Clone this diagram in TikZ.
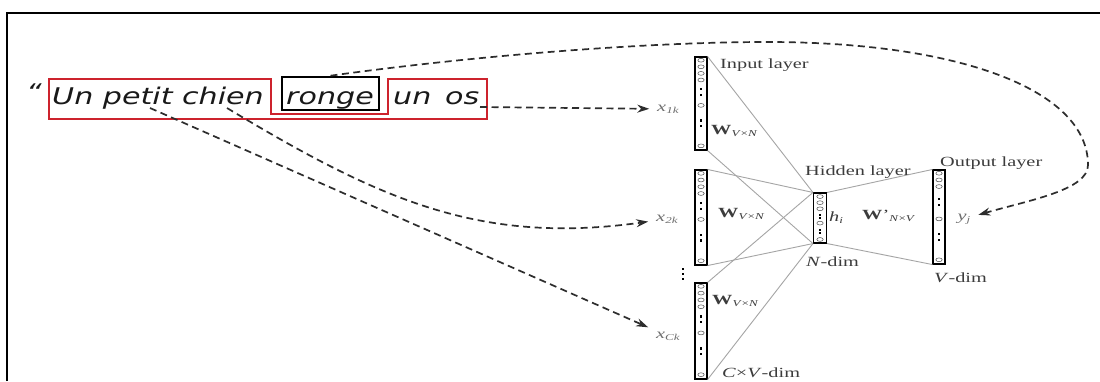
\documentclass[tikz,border=0pt]{standalone}
\usepackage{fontspec}
\usepackage{graphicx}
\setmainfont{Liberation Serif}
\newfontfamily\sentfont{DejaVu Sans}
\usetikzlibrary{arrows.meta,calc}
\definecolor{boxred}{RGB}{205,35,45}
\definecolor{dashc}{RGB}{45,45,45}
\definecolor{labc}{RGB}{60,60,60}
\definecolor{xlab}{RGB}{110,110,110}
\definecolor{netline}{RGB}{165,165,165}
\newcommand\hs[1]{\scalebox{1.45}[1]{#1}}
\newcommand\sentstretch[1]{\scalebox{1.31}[1]{#1}}
\newcommand\sbs[1]{\raisebox{-0.35ex}{\fontsize{9}{9}\selectfont #1}}
\newcommand\vitems[3]{%
  \foreach \f in {#2}{\draw[vcirc] ($(#1.north)!\f!(#1.south)$) ellipse (3.2pt and 1.9pt);}%
  \foreach \f in {#3}{\fill[vdot] ($(#1.north)!\f!(#1.south)$) ++(-1.3,-1.1) rectangle ++(2.6,2.2);}%
}
\begin{document}
\begin{tikzpicture}[x=1pt,y=-1pt,
  sent/.style={inner sep=0pt, anchor=base west, text=black!90, font=\sentfont\itshape\fontsize{23}{25}\selectfont},
  lab/.style={inner sep=0pt, anchor=west, text=labc, font=\fontsize{14}{16}\selectfont},
  xl/.style={inner sep=0pt, outer sep=8pt, text=xlab, font=\fontsize{14}{16}\selectfont},
  vecbox/.style={draw=black, line width=1.1pt, inner sep=0pt, minimum width=12pt},
  vcirc/.style={draw=black!70, line width=0.5pt},
  vdot/.style={fill=black},
  conn/.style={draw=netline, line width=0.9pt},
  darr/.style={draw=dashc, line width=1.7pt, dash pattern=on 7pt off 4.5pt, -{Stealth[length=12pt,width=8pt]}},
]
\useasboundingbox (0,0) rectangle (1100,381);
\fill[white] (0,0) rectangle (1100,381);
% frame
\draw[line width=2pt] (7,381) -- (7,13) -- (1100,13);

% sentence
\node[sent, anchor=east] (quote) at (42,92) {\sentstretch{“}};
\node[sent] (s1) at (52,104) {\sentstretch{Un petit chien}};
\node[sent] (ronge) at (286,104) {\sentstretch{ronge}};
\node[sent] (un) at (393,104) {\sentstretch{un}};
\node[sent] (os) at (445,104) {\sentstretch{os}};
\node[draw=black, line width=2.6pt, minimum width=97pt, minimum height=33pt, inner sep=0pt] (rbox) at (330.5,93.5) {};
\draw[boxred, line width=1.8pt] (49,79) -- (271,79) -- (271,114) -- (388,114) -- (388,79) -- (487,79) -- (487,119) -- (49,119) -- cycle;

\coordinate (petit) at (150,108);
\coordinate (chien) at (227,108);
\coordinate (osend) at (480,107);

% input labels
\node[xl] (x1k) at (668,109) {\hs{\textit{x}\sbs{\textit{1k}}}};
\node[xl] (x2k) at (667,219) {\hs{\textit{x}\sbs{\textit{2k}}}};
\node[xl] (xCk) at (668,336) {\hs{\textit{x}\sbs{\textit{Ck}}}};
\node[xl] (yj) at (964,219) {\hs{\textit{y}\sbs{\textit{j}}}};

% vectors
\node[vecbox, minimum height=93pt] (v1) at (701,103.5) {};
\node[vecbox, minimum height=95pt] (v2) at (701,217.5) {};
\node[vecbox, minimum height=96pt] (v3) at (701,331) {};
\node[vecbox, minimum height=50pt, minimum width=13pt] (hid) at (820,218) {};
\node[vecbox, minimum height=94pt] (outv) at (939,217) {};

% connections
\draw[conn] (v1.north east) -- (hid.north west);
\draw[conn] (v1.south east) -- (hid.south west);
\draw[conn] (v2.north east) -- (hid.north west);
\draw[conn] (v2.south east) -- (hid.south west);
\draw[conn] (v3.north east) -- (hid.north west);
\draw[conn] (v3.south east) -- (hid.south west);
\draw[conn] (hid.north east) -- (outv.north west);
\draw[conn] (hid.south east) -- (outv.south west);

\vitems{v1}{0.04,0.11,0.18,0.25,0.52,0.95}{0.35,0.41,0.68,0.74}
\vitems{v2}{0.04,0.11,0.18,0.25,0.52,0.95}{0.35,0.41,0.68,0.74}
\vitems{v3}{0.04,0.11,0.18,0.25,0.52,0.95}{0.35,0.41,0.68,0.74}
\vitems{outv}{0.04,0.11,0.18,0.52,0.95}{0.31,0.37,0.68,0.74}
\vitems{hid}{0.08,0.2,0.32,0.6,0.92}{0.44,0.5,0.74,0.8}

% vertical ellipsis between the input vectors
\foreach \yy in {269,274,279}{\fill[black] (681.8,\yy-1.2) rectangle (684.2,\yy+1.2);}

% labels
\node[lab] (inl) at (720,65) {\hs{Input layer}};
\node[lab] (w1) at (711,131) {\hs{\textbf{W}\sbs{\textit{V}×\textit{N}}}};
\node[lab] (w2) at (718,214) {\hs{\textbf{W}\sbs{\textit{V}×\textit{N}}}};
\node[lab] (w3) at (712,301) {\hs{\textbf{W}\sbs{\textit{V}×\textit{N}}}};
\node[lab] (cvdim) at (722,373) {\hs{\textit{C}×\textit{V}-dim}};
\node[lab] (hidl) at (805,172) {\hs{Hidden layer}};
\node[lab] (hi) at (829,218) {\hs{\textit{h}\sbs{\textit{i}}}};
\node[lab] (ndim) at (806,262) {\hs{\textit{N}-dim}};
\node[lab] (wp) at (862,216) {\hs{\textbf{W}'\sbs{\textit{N}×\textit{V}}}};
\node[lab] (outl) at (940,163) {\hs{Output layer}};
\node[lab] (vdim) at (934,278) {\hs{\textit{V}-dim}};

% dashed arrows
\draw[darr] (osend) -- (x1k);
\draw[darr] (petit) -- (xCk);
\draw[darr] (chien) .. controls (380,200) and (480,245) .. (x2k);
\draw[darr] (rbox.north) .. controls (480,55) and (650,42) .. (767,42)
  .. controls (960,42) and (1088,90) .. (1088,165)
  .. controls (1088,190) and (1030,200) .. (yj);
\end{tikzpicture}
\end{document}
